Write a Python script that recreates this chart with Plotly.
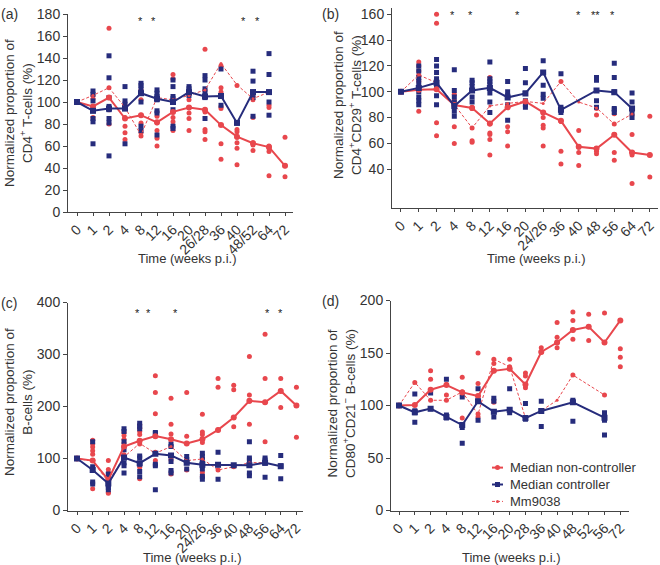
import plotly.graph_objects as go

RED = "#E8474D"
BLUE = "#262C7C"
INK = "#333333"
FONT = "Liberation Sans, Arial, sans-serif"

# ---------------- Panel (a) CD4+ T-cells ----------------
a_cats = ["0", "1", "2", "4", "8", "12", "16", "20", "26/28", "36", "40", "48/52", "64", "72"]
a_nc_median = [100, 96, 104, 85, 88, 81.5, 91, 95, 93, 79, 68.5, 62.5, 59, 42]
a_c_median = [100, 92, 94, 94, 108, 103, 100, 109, 105, 105.5, 81, 109, 109, None]
a_mm9038 = [100, 106, 113, 95, 70, 104, 102, 106, 111, 135, 115.5, 103, 109, None]
a_c_points = [[100], [110, 107, 101, 92, 85, 82, 62], [142, 122, 104, 96, 93, 85, 81, 51],
              [114, 101, 98, 95, 62], [117, 115, 112, 108, 100, 78, 74],
              [111, 108, 105, 102, 92, 90, 70], [120, 114, 105, 103, 101, 93, 78, 76],
              [114, 112, 108, 106], [124, 120, 112, 108, 104, 85], [130, 105, 97], [81],
              [128, 119, 109, 104, 87], [144, 125, 109, 100, 88], []]
a_nc_points = [[100], [106, 103, 96, 86], [167, 113, 104, 93, 80], [97, 86, 78, 72, 66],
               [111, 102, 88, 81, 72, 69], [87, 81, 74, 67, 60], [125, 121, 91, 86, 82, 74],
               [107, 102, 95, 90, 85, 74], [148, 111, 93, 91, 75, 73, 66],
               [133, 113, 109, 96, 94, 62, 48], [115, 75, 73, 68, 63, 58, 43],
               [105, 102, 86, 63, 61, 56], [97, 95, 60, 58, 55, 33], [68, 42, 32]]
a_star_pos = [3.94, 4.75, 10.4, 11.25]
a_star_txt = ["*", "*", "*", "*"]

# ---------------- Panel (b) CD4+CD29+ T-cells ----------------
b_cats = ["0", "1", "2", "4", "8", "12", "16", "20", "24/26", "36", "40", "48", "56", "64", "72"]
b_nc_median = [100, 101.5, 102, 89.7, 87.4, 75.5, 88, 92.5, 84, 77.5, 57.4, 56, 66.7, 53, 51]
b_c_median = [100, 103, 107, 89, 101, 103, 95.6, 98.7, 115, 86, None, 101, 99.7, 87, None]
b_mm9038 = [100, 113, 107, 90, 72, 89, 91, 92.5, 91, 108, 92, 87.5, 75, 82.7, None]
b_c_points = [[100], [120, 116, 111, 108, 104, 100, 96, 93, 90], [125, 120, 115, 110, 106, 103, 97, 90],
              [117, 101, 96, 92, 89, 85, 81], [109, 107, 104, 101, 96, 92],
              [123, 110, 108, 106, 103, 99, 92, 84], [108, 100, 97, 96, 90, 78],
              [118, 107, 99, 93, 90, 88], [124, 115, 105, 98, 95], [114, 88, 86, 84], [],
              [111, 109, 101, 93, 88], [122, 111, 100, 87, 86, 84], [99, 92, 87, 84, 80], []]
b_nc_points = [[100], [123, 120, 116, 113, 108, 85], [160, 153, 102, 76, 66], [98, 93, 73, 60],
               [88, 87, 72, 62, 61], [111, 102, 75, 68, 67, 63, 51], [88, 73, 69, 58], [92],
               [84, 80, 74, 72, 58], [108, 77, 54, 44], [70, 57, 53, 43], [87, 82, 56, 54, 52],
               [83, 75, 67, 53, 47], [82, 67, 53, 51, 29], [81, 51, 34]]
b_star_pos = [2.9, 3.9, 6.55, 10.0, 10.97, 11.9]
b_star_txt = ["*", "*", "*", "*", "**", "*"]

# ---------------- Panel (c) B-cells ----------------
c_cats = ["0", "1", "2", "4", "8", "12", "16", "20", "24/26", "36", "40", "48", "56", "64", "72"]
c_nc_median = [100, 96, 59, 123, 134, 143, 137, 129, 137, 155, 179, 211, 208, 230, 202]
c_c_median = [100, 78, 52, 102, 91, 109, 106, 92, 88, 88, 87, 87, 92, 85, None]
c_mm9038 = [100, 95, 55, 103, 129, 110, 123, 96, 99, 78, 84, 92, 92, None, None]
c_c_points = [[100], [132, 84, 80, 55, 51], [70, 62, 55, 49, 44, 40],
              [157, 152, 132, 117, 102, 92, 86, 72], [168, 162, 157, 105, 101, 89, 75, 65],
              [150, 148, 89, 86, 40], [128, 123, 106, 94, 77, 72], [104, 98, 92, 80],
              [110, 104, 98, 92, 86, 80, 66, 60], [112, 88, 60], [],
              [132, 101, 97, 87, 72, 67], [101, 97, 91, 64], [106, 86, 61], []]
c_nc_points = [[100], [135, 128, 122, 115, 108, 96, 42], [96, 79, 72, 35, 33],
               [150, 144, 137, 130, 123, 107], [165, 158, 152, 146, 134, 128, 83, 61],
               [259, 227, 186, 143, 112, 96, 88], [216, 166, 147, 123, 105, 97, 70],
               [227, 143, 78], [185, 151, 146, 138, 131, 73, 66], [254, 237, 155, 78],
               [241, 232, 179, 161, 84], [296, 222, 210, 166, 90], [339, 254, 208, 132, 92],
               [254, 230, 198], [237, 202, 141]]
c_star_pos = [3.84, 4.54, 6.31, 12.15, 13.0]
c_star_txt = ["*", "*", "*", "*", "*"]

# ---------------- Panel (d) CD80+CD21- B-cells ----------------
d_cats = ["0", "1", "2", "4", "8", "12", "16", "20", "28", "36", "40", "48", "52", "56", "72"]
d_nc_median = [100, 100.5, 115, 119.5, 112.5, 109, 133, 135, 120, 151, 160, 172, 175, 160, 181]
d_c_median = [100, 93.5, 97, 89, 81.4, 104, 94, 96, 88, 94.8, None, 103, None, 88.4, None]
d_mm9038 = [100, 122, 105, 105, 113, 91.6, 144, 137, 88, 95, 105, 129, None, 110, None]
d_c_points = [[100], [111, 95, 93, 84], [112, 97], [125, 91, 88], [108, 82, 79, 64],
              [116, 104, 86], [107, 104, 94, 89], [116, 96, 93], [102, 88, 87], [104, 95, 80],
              [], [105, 103, 85], [], [93, 90, 88, 86, 72], []]
d_nc_points = [[100], [122], [133, 125, 115, 105], [120, 110, 105], [127, 113, 110, 88],
               [150, 121, 109, 92, 89], [144, 140, 133, 103], [144, 137, 135],
               [131, 128, 120, 117], [155, 151], [179, 165, 160, 155],
               [189, 181, 172, 163, 129], [187, 175, 162], [188, 160, 110], [154, 146, 137]]
d_star_pos = [3.19, 5.86, 7.07, 8.08, 9.18, 10.23, 11.29, 13.3]
d_star_txt = ["*"] * 8

legend_names = ["Median non-controller", "Median controller", "Mm9038"]

W, H = 660, 565


def px(x):
    return x / W


def py(y):
    return 1 - y / H


panels = [
    dict(cats=a_cats, ncm=a_nc_median, cm=a_c_median, mm=a_mm9038, cp=a_c_points, ncp=a_nc_points,
         sp=a_star_pos, st=a_star_txt, sy=176, ax="", yr=[0, 180], ydt=20, tickvals=None,
         xdom=[68, 293], ydom=[212, 14], xr=[-0.5625, 13.5],
         ytitle="Normalized proportion of<br>CD4<sup>+</sup> T-cells (%)", ytx=19, yty=113,
         xtx=187, xty=258, lab="(a)", labx=9, laby=14),
    dict(cats=b_cats, ncm=b_nc_median, cm=b_c_median, mm=b_mm9038, cp=b_c_points, ncp=b_nc_points,
         sp=b_star_pos, st=b_star_txt, sy=162, ax="2", yr=[10, 165], ydt=20,
         tickvals=[40, 60, 80, 100, 120, 140, 160],
         xdom=[392, 658], ydom=[208, 7.8], xr=[-0.506, 14.46],
         ytitle="Normalized proportion of<br>CD4<sup>+</sup>CD29<sup>+</sup> T-cells (%)", ytx=347, yty=105,
         xtx=536, xty=258, lab="(b)", labx=330, laby=14),
    dict(cats=c_cats, ncm=c_nc_median, cm=c_c_median, mm=c_mm9038, cp=c_c_points, ncp=c_nc_points,
         sp=c_star_pos, st=c_star_txt, sy=385, ax="3", yr=[0, 400], ydt=100, tickvals=None,
         xdom=[68, 303], ydom=[510.5, 302.5], xr=[-0.574, 14.42],
         ytitle="Normalized proportion of<br>B-cells (%)", ytx=18, yty=402,
         xtx=192, xty=557, lab="(c)", labx=9, laby=303),
    dict(cats=d_cats, ncm=d_nc_median, cm=d_c_median, mm=d_mm9038, cp=d_c_points, ncp=d_nc_points,
         sp=d_star_pos, st=d_star_txt, sy=202, ax="4", yr=[0, 200], ydt=50, tickvals=None,
         xdom=[391, 629], ydom=[510.5, 300.5], xr=[-0.506, 14.55],
         ytitle="Normalized proportion of<br>CD80<sup>+</sup>CD21<sup>\u2212</sup> B-cells (%)", ytx=341, yty=404,
         xtx=511, xty=557, lab="(d)", labx=330, laby=301),
]

fig = go.Figure()
annotations = []
shapes = []
layout_axes = {}

for i, p in enumerate(panels):
    ax = p["ax"]
    xref, yref = "x" + ax, "y" + ax
    n = len(p["cats"])
    idx = list(range(n))
    ncx, ncy, cx, cy = [], [], [], []
    for k in idx:
        for v in p["ncp"][k]:
            ncx.append(k); ncy.append(v)
        for v in p["cp"][k]:
            cx.append(k); cy.append(v)
    fig.add_trace(go.Scatter(x=ncx, y=ncy, mode="markers", xaxis=xref, yaxis=yref,
                             marker=dict(color=RED, size=5, symbol="circle"),
                             showlegend=False, hoverinfo="y"))
    fig.add_trace(go.Scatter(x=cx, y=cy, mode="markers", xaxis=xref, yaxis=yref,
                             marker=dict(color=BLUE, size=5, symbol="square"),
                             showlegend=False, hoverinfo="y"))
    fig.add_trace(go.Scatter(x=idx, y=p["mm"], mode="lines+markers", xaxis=xref, yaxis=yref,
                             line=dict(color=RED, width=1, dash="3px,2px"),
                             marker=dict(color=RED, size=3),
                             connectgaps=True, name=legend_names[2], showlegend=False))
    fig.add_trace(go.Scatter(x=idx, y=p["ncm"], mode="lines+markers", xaxis=xref, yaxis=yref,
                             line=dict(color=RED, width=2),
                             marker=dict(color=RED, size=6, symbol="circle"),
                             connectgaps=True, name=legend_names[0], showlegend=False))
    fig.add_trace(go.Scatter(x=idx, y=p["cm"], mode="lines+markers", xaxis=xref, yaxis=yref,
                             line=dict(color=BLUE, width=2),
                             marker=dict(color=BLUE, size=6, symbol="square"),
                             connectgaps=True, name=legend_names[1], showlegend=False))

    xd = [px(p["xdom"][0]), px(p["xdom"][1])]
    yd = [py(p["ydom"][0]), py(p["ydom"][1])]
    layout_axes["xaxis" + ax] = dict(domain=xd, range=p["xr"], anchor=yref, tickmode="array",
                                     tickvals=idx, ticktext=p["cats"], tickangle=-45,
                                     showline=True, linecolor="#444", linewidth=1, ticks="outside",
                                     ticklen=3, tickcolor="#444", showgrid=False, zeroline=False,
                                     automargin=False, ticklabeloverflow="allow",
                                     tickfont=dict(size=14, color=INK, family=FONT))
    ykw = dict(domain=yd, range=p["yr"], anchor=xref, showline=True, linecolor="#444",
               linewidth=1, ticks="outside", ticklen=4, tickcolor="#444", showgrid=False,
               zeroline=False, automargin=False, ticklabeloverflow="allow",
               tickfont=dict(size=14, color=INK, family=FONT))
    if p["tickvals"] is not None:
        ykw.update(tickmode="array", tickvals=p["tickvals"])
    else:
        ykw.update(dtick=p["ydt"], tick0=0)
    layout_axes["yaxis" + ax] = ykw

    for sx, stx in zip(p["sp"], p["st"]):
        annotations.append(dict(x=sx, y=p["sy"], xref=xref, yref=yref, text=stx, showarrow=False,
                                xanchor="center", yanchor="middle",
                                font=dict(size=11, color="#222", family=FONT), yshift=-3))
    annotations.append(dict(x=px(p["ytx"]), y=py(p["yty"]), xref="paper", yref="paper",
                            text=p["ytitle"], textangle=-90, showarrow=False,
                            xanchor="center", yanchor="middle",
                            font=dict(size=13.5, color=INK, family=FONT)))
    annotations.append(dict(x=px(p["xtx"]), y=py(p["xty"]), xref="paper", yref="paper",
                            text="Time (weeks p.i.)", showarrow=False,
                            xanchor="center", yanchor="middle",
                            font=dict(size=13, color=INK, family=FONT)))
    annotations.append(dict(x=px(p["labx"]), y=py(p["laby"]), xref="paper", yref="paper",
                            text=p["lab"], showarrow=False, xanchor="center", yanchor="middle",
                            font=dict(size=14, color=INK, family=FONT)))

# compact legend inside panel (d): one multi-line text block plus drawn keys
LEG_FS = 13
line_h = LEG_FS * 1.3
mid_row = 484.5
rows = [mid_row - line_h, mid_row, mid_row + line_h]
sx0, sx1, tx = 492, 503, 508
cxm = (sx0 + sx1) / 2
key_styles = [(RED, 2, "solid", "circle", 2.5), (BLUE, 2, "solid", "rect", 2.5),
              (RED, 1, "3px,2px", "circle", 1.5)]
for row, (col, lw, dash, mk, r) in zip(rows, key_styles):
    shapes.append(dict(type="line", xref="paper", yref="paper", x0=px(sx0), x1=px(sx1),
                       y0=py(row), y1=py(row), line=dict(color=col, width=lw, dash=dash)))
    shapes.append(dict(type=mk, xref="paper", yref="paper", x0=px(cxm - r), x1=px(cxm + r),
                       y0=py(row + r), y1=py(row - r), fillcolor=col, line=dict(width=0)))
annotations.append(dict(x=px(tx), y=py(mid_row), xref="paper", yref="paper",
                        text="<br>".join(legend_names), showarrow=False, align="left",
                        xanchor="left", yanchor="middle",
                        font=dict(size=LEG_FS, color=INK, family=FONT)))

fig.update_layout(
    width=W, height=H, margin=dict(l=0, r=0, t=0, b=0),
    paper_bgcolor="white", plot_bgcolor="white",
    font=dict(family=FONT, color=INK),
    showlegend=False,
    annotations=annotations, shapes=shapes,
    **layout_axes,
)

# remove the browser's default 8px page margin so the 660x565 figure fills the window
fig.write_html("out.html", config={"displayModeBar": False},
               post_script="document.body.style.margin='0';")
